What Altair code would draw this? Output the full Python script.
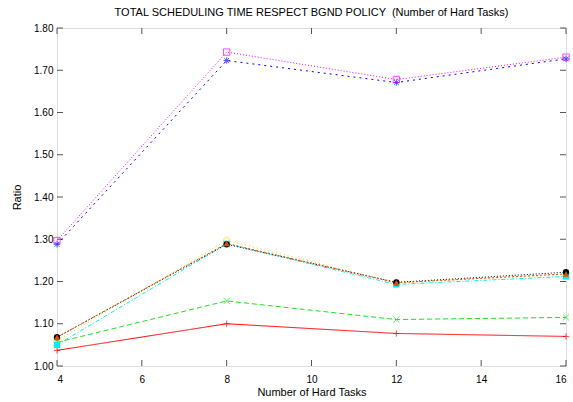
import altair as alt
import pandas as pd

hard_tasks = [4, 8, 12, 16]
series_names = ["s1", "s2", "s3", "s4", "s5", "s6", "s7", "s8"]
s1 = [1.037, 1.100, 1.077, 1.070]
s2 = [1.056, 1.154, 1.110, 1.115]
s3 = [1.288, 1.723, 1.671, 1.727]
s4 = [1.297, 1.743, 1.678, 1.731]
s5 = [1.050, 1.289, 1.193, 1.212]
s6 = [1.060, 1.297, 1.197, 1.216]
s7 = [1.068, 1.288, 1.198, 1.222]
s8 = [1.068, 1.290, 1.197, 1.218]
all_series = [s1, s2, s3, s4, s5, s6, s7, s8]

colors = ["#ff0000", "#22dd22", "#0000ff", "#ff00ff", "#00eeee", "#ffd700", "#000000", "#e05000"]
dashes = [[1, 0], [5, 3], [2, 4], [1, 2], [4, 2, 1, 2], [1, 3], [1, 2], [2, 2]]
PLUS = "M-1,0L1,0M0,-1L0,1"
XSHAPE = "M-1,-1L1,1M-1,1L1,-1"
STAR = "M-1,0L1,0M0,-1L0,1M-0.75,-0.75L0.75,0.75M-0.75,0.75L0.75,-0.75"
shapes = [PLUS, XSHAPE, STAR, "square", "square", "circle", "circle", "triangle-up"]
filled = [False, False, False, False, True, False, True, True]

y_ticks = [1.0, 1.1, 1.2, 1.3, 1.4, 1.5, 1.6, 1.7, 1.8]
x_ticks = [4, 6, 8, 10, 12, 14, 16]

rows = []
for name, vals in zip(series_names, all_series):
    for x, y in zip(hard_tasks, vals):
        rows.append({"series": name, "x": x, "y": y})
df = pd.DataFrame(rows)
open_names = [n for n, f in zip(series_names, filled) if not f]
filled_names = [n for n, f in zip(series_names, filled) if f]

W, H = 509, 338
FONT = "Liberation Sans"

xs = alt.Scale(domain=[4, 16], nice=False)
ys = alt.Scale(domain=[1.0, 1.8], nice=False, zero=False)
cscale = alt.Scale(domain=series_names, range=colors)
sscale = alt.Scale(domain=series_names, range=shapes)

base = alt.Chart(df)

lines = base.mark_line(strokeWidth=1).encode(
    x=alt.X("x:Q", scale=xs,
            axis=alt.Axis(values=x_ticks, title="Number of Hard Tasks", tickSize=0,
                          labelPadding=8, titlePadding=2, domain=False, grid=False,
                          titleFontWeight="normal")),
    y=alt.Y("y:Q", scale=ys,
            axis=alt.Axis(values=y_ticks, format=".2f", title="Ratio", tickSize=0,
                          labelPadding=4, titlePadding=11, domain=False, grid=False,
                          titleFontWeight="normal")),
    color=alt.Color("series:N", scale=cscale, legend=None),
    strokeDash=alt.StrokeDash("series:N", scale=alt.Scale(domain=series_names, range=dashes), legend=None),
    detail="series:N",
)

pts_open = base.transform_filter(
    alt.FieldOneOfPredicate(field="series", oneOf=open_names)
).mark_point(filled=False, size=40, strokeWidth=1).encode(
    x=alt.X("x:Q", scale=xs), y=alt.Y("y:Q", scale=ys),
    color=alt.Color("series:N", scale=cscale, legend=None),
    shape=alt.Shape("series:N", scale=sscale, legend=None),
)

pts_filled = base.transform_filter(
    alt.FieldOneOfPredicate(field="series", oneOf=filled_names)
).mark_point(filled=True, size=40, opacity=1).encode(
    x=alt.X("x:Q", scale=xs), y=alt.Y("y:Q", scale=ys),
    color=alt.Color("series:N", scale=cscale, legend=None),
    shape=alt.Shape("series:N", scale=sscale, legend=None),
)

ytick_df = pd.DataFrame({"t": y_ticks})
xtick_df = pd.DataFrame({"t": x_ticks})
tick_color = "#555555"
yt_left = alt.Chart(ytick_df).mark_rule(color=tick_color, strokeWidth=1).encode(
    y=alt.Y("t:Q", scale=ys), x=alt.value(0), x2=alt.value(6))
yt_right = alt.Chart(ytick_df).mark_rule(color=tick_color, strokeWidth=1).encode(
    y=alt.Y("t:Q", scale=ys), x=alt.value(W - 6), x2=alt.value(W))
xt_bot = alt.Chart(xtick_df).mark_rule(color=tick_color, strokeWidth=1).encode(
    x=alt.X("t:Q", scale=xs), y=alt.value(H - 6), y2=alt.value(H))
xt_top = alt.Chart(xtick_df).mark_rule(color=tick_color, strokeWidth=1).encode(
    x=alt.X("t:Q", scale=xs), y=alt.value(0), y2=alt.value(6))

chart = alt.layer(yt_left, yt_right, xt_bot, xt_top, lines, pts_open, pts_filled).properties(
    width=W, height=H,
    title=alt.Title("TOTAL SCHEDULING TIME RESPECT BGND POLICY \u00a0(Number of Hard Tasks)",
                    fontSize=11, font=FONT, fontWeight="normal", offset=5, anchor="middle"),
    autosize=alt.AutoSizeParams(type="none"),
    padding={"left": 57, "top": 28, "right": 7, "bottom": 36},
).configure_view(stroke="black", strokeWidth=1.2).configure_axis(
    labelFont=FONT, titleFont=FONT, labelFontSize=11, titleFontSize=11,
    titleFontWeight="normal", labelColor="black", titleColor="black",
).configure(background="white")

chart.save("out.html", embed_options={"renderer": "svg", "actions": False})
